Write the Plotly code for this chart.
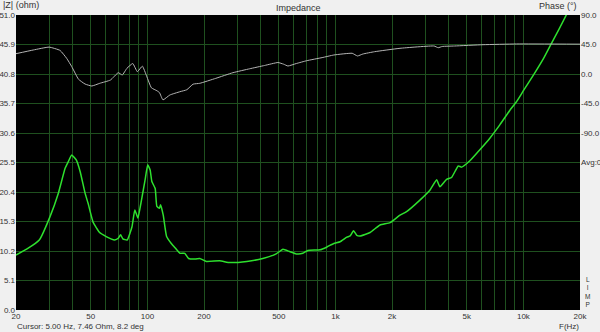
import plotly.graph_objects as go
import math

# Impedance magnitude (ohm) vs frequency (Hz)
imp_freq = [20, 23, 26.6, 30.3, 33.6, 36.5, 37.9, 39.6, 41.9, 43.9, 46.6, 48.4, 51.4, 55.7,
            60.4, 64, 67, 70, 72, 74, 78, 82.8, 85.7, 89, 93, 97.2, 100.4, 103.4, 105.6, 110,
            112.3, 115.9, 117.5, 121.4, 126.5, 134, 140.8, 149, 158, 165.6, 180, 190, 206, 242,
            275, 338, 411, 484, 526, 571, 619, 671, 713, 829, 902, 981, 1059, 1151, 1198, 1249,
            1300, 1355, 1529, 1727, 1954, 2206, 2390, 2815, 3182, 3456, 3596, 3904, 4148, 4501,
            4689, 5190, 5865, 6628, 7489, 8461, 9186, 10040, 11300, 12800, 14100, 15500, 16900, 18000]
imp_ohm = [9.5, 10.6, 12.1, 16.1, 20.2, 24.5, 25.6, 26.8, 25.9, 23.9, 20.2, 18.4, 15.2, 13.4,
           12.7, 12.3, 12.1, 12.4, 13.0, 12.3, 12.1, 14.4, 17.3, 15.9, 19.0, 22.5, 25.1, 24.2, 22.2, 21.0,
           17.9, 17.6, 18.2, 16.4, 12.7, 11.5, 10.7, 9.8, 9.8, 8.9, 8.8, 8.9, 8.4, 8.5,
           8.2, 8.4, 8.9, 9.7, 10.5, 10.1, 9.7, 9.8, 10.3, 10.4, 10.9, 11.5, 11.8, 12.6, 12.8, 13.7,
           12.9, 12.8, 13.4, 14.7, 15.1, 16.4, 17.0, 19.0, 20.7, 22.5, 21.3, 22.6, 22.9, 24.9,
           24.7, 25.8, 27.7, 29.7, 32.0, 34.5, 36.0, 38.0, 40.6, 43.5, 46.1, 48.6, 51.0, 53.0]

# Phase (deg) vs frequency (Hz)
ph_freq = [20, 24.7, 30, 34.3, 37.2, 39.6, 43, 46.6, 50.6, 55.8, 63.6, 70, 73.5, 77.8, 83.6,
           88.4, 94, 99, 105, 112.3, 116, 121, 131.7, 149, 162, 175, 190, 231, 285, 350, 420,
           495, 530, 559, 620, 704, 850, 981, 1228, 1310, 1400, 1614, 2206, 3350, 3520, 3700,
           4300, 6100, 9200, 20000]
ph_deg = [31, 36.6, 41, 36, 23.9, 11.2, -8, -15.3, -18.3, -14.2, -9.2, 2.0, -1.5, 8.7, 16,
          3.5, 12, -3, -21, -25.5, -28.5, -39.5, -32, -27, -24, -15.5, -14.2, -6.6, 2.0, 8, 13,
          17.5, 15, 12.2, 16, 20.3, 25, 29, 31.6, 27.5, 30.5, 34, 39.2, 42.7, 40.1, 42,
          42.7, 44.7, 45.8, 45.5]

# Axis ticks
x_grid = [20, 30, 40, 50, 60, 70, 80, 90, 100, 200, 300, 400, 500, 600, 700, 800, 900,
          1000, 2000, 3000, 4000, 5000, 6000, 7000, 8000, 9000, 10000, 20000]
x_labels = {20: "20", 50: "50", 100: "100", 200: "200", 500: "500", 1000: "1k",
            2000: "2k", 5000: "5k", 10000: "10k", 20000: "20k"}
y_ticks = [0, 5.1, 10.2, 15.3, 20.4, 25.5, 30.6, 35.7, 40.8, 45.9, 51.0]
ph_ticks = [90, 45, 0, -45, -90, -135]
ph_labels = ["90.0", "45.0", "0.0", "-45.0", "-90.0", "Avg:0"]

FONT = "Liberation Sans, Arial, sans-serif"
TXT = "#333333"
GRID = "#1f501f"
TICKFONT = dict(size=8, color=TXT, family=FONT)

fig = go.Figure()
fig.add_trace(go.Scatter(x=ph_freq, y=ph_deg, yaxis="y2", mode="lines",
                         line=dict(color="#b4b4b4", width=1, shape="spline", smoothing=0.4),
                         hoverinfo="skip"))
fig.add_trace(go.Scatter(x=imp_freq, y=imp_ohm, mode="lines",
                         line=dict(color="#2ee02e", width=1.5, shape="spline", smoothing=0.4),
                         hoverinfo="skip"))

fig.update_layout(
    width=600, height=332,
    margin=dict(l=16, r=20, t=15, b=22, autoexpand=False),
    paper_bgcolor="#f0f0f0", plot_bgcolor="#000000",
    showlegend=False,
    font=dict(family=FONT, size=9, color=TXT),
    xaxis=dict(type="log", range=[math.log10(20), math.log10(20000)],
               tickvals=x_grid, ticktext=[x_labels.get(v, "") for v in x_grid],
               showgrid=True, gridcolor=GRID, gridwidth=1, zeroline=False,
               ticks="", showline=False, tickfont=TICKFONT, automargin=False),
    yaxis=dict(range=[0, 51], tickvals=y_ticks, ticktext=[f"{v:.1f}" for v in y_ticks],
               showgrid=True, gridcolor=GRID, gridwidth=1, zeroline=False,
               ticks="", showline=False, tickfont=TICKFONT, automargin=False),
    yaxis2=dict(range=[-360, 90], overlaying="y", side="right",
                tickvals=ph_ticks, ticktext=ph_labels, showgrid=False, zeroline=False,
                ticks="", showline=False, tickfont=TICKFONT, automargin=False),
)

annos = [
    dict(text="Impedance", x=0.5, y=1, yshift=1, yanchor="bottom", xanchor="center", borderpad=0),
    dict(text="|Z| (ohm)", x=0, xshift=-14, y=1, yshift=4, yanchor="bottom", xanchor="left",
         borderpad=0),
    dict(text="Phase (°)", x=1, xshift=-2, y=1, yshift=3, yanchor="bottom", xanchor="right",
         borderpad=0),
    dict(text="Cursor: 5.00 Hz, 7.46 Ohm, 8.2 deg", x=0, y=0, yshift=-11, yanchor="top",
         xanchor="left", borderpad=0, font=dict(size=8, color=TXT, family=FONT)),
    dict(text="F(Hz)", x=1, y=0, yshift=-11, yanchor="top", xanchor="right", borderpad=0,
         font=dict(size=8, color=TXT, family=FONT)),
    dict(text="L<br>I<br>M<br>P", x=1, xshift=7, y=0, yshift=1, yanchor="bottom",
         xanchor="center", borderpad=0, font=dict(size=6.5, color=TXT, family=FONT)),
]
for a in annos:
    a.setdefault("font", dict(size=9, color=TXT, family=FONT))
    fig.add_annotation(xref="paper", yref="paper", showarrow=False, **a)

fig.write_html("out.html")
